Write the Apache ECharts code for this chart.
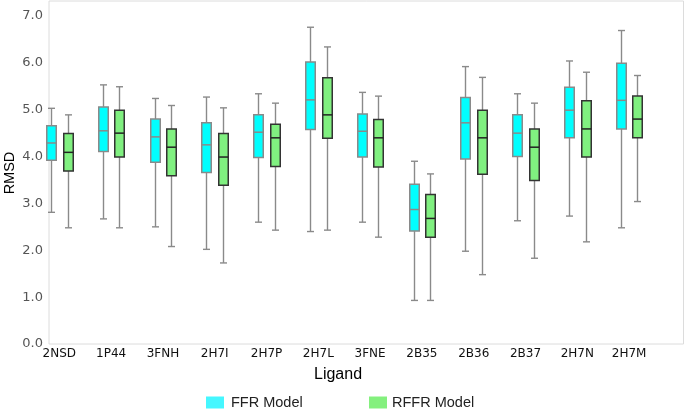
<!DOCTYPE html>
<html><head><meta charset="utf-8">
<script src="https://cdn.jsdelivr.net/npm/echarts@6/dist/echarts.min.js"></script>
<style>html,body{margin:0;padding:0;background:#fff}#c{width:685px;height:409px}</style>
</head><body><div id="c"></div>
<script>
var categories = ['2NSD','1P44','3FNH','2H7I','2H7P','2H7L','3FNE','2B35','2B36','2B37','2H7N','2H7M'];
var yTicks = [0,1,2,3,4,5,6,7];

var ffrMin    = [2.81,2.67,2.50,2.02,2.60,2.40,2.60,0.93,1.98,2.63,2.73,2.48];
var ffrQ1     = [3.92,4.11,3.88,3.66,3.98,4.58,3.99,2.41,3.95,4.00,4.40,4.59];
var ffrMedian = [4.29,4.55,4.42,4.25,4.52,5.21,4.54,2.87,4.72,4.50,4.99,5.20];
var ffrQ3     = [4.66,5.06,4.80,4.72,4.89,6.02,4.91,3.41,5.26,4.89,5.48,5.99];
var ffrMax    = [5.03,5.53,5.24,5.27,5.34,6.76,5.37,3.90,5.92,5.34,6.04,6.69];

var rffrMin    = [2.48,2.48,2.08,1.73,2.43,2.43,2.28,0.93,1.48,1.83,2.18,3.04];
var rffrQ1     = [3.69,3.99,3.59,3.39,3.79,4.39,3.78,2.28,3.62,3.49,3.99,4.40];
var rffrMedian = [4.09,4.50,4.20,3.99,4.40,4.89,4.40,2.68,4.40,4.20,4.59,4.80];
var rffrQ3     = [4.49,4.99,4.59,4.49,4.69,5.68,4.79,3.19,4.99,4.59,5.19,5.29];
var rffrMax    = [4.89,5.49,5.09,5.04,5.14,6.34,5.29,3.63,5.69,5.14,5.80,5.73];

function rows(mn, q1, md, q3, mx) {
  return categories.map(function (c, i) { return [i, mn[i], q1[i], md[i], q3[i], mx[i]]; });
}

function makeRender(offset, fill, boxStroke, medStroke) {
  return function (params, api) {
    var i = api.value(0);
    var pMin = api.coord([i, api.value(1)]);
    var pQ1 = api.coord([i, api.value(2)]);
    var pMed = api.coord([i, api.value(3)]);
    var pQ3 = api.coord([i, api.value(4)]);
    var pMax = api.coord([i, api.value(5)]);
    var x = Math.round(pMed[0] + offset) + 0.5;
    var hw = 4.75, cw = 3.5;
    var wStyle = { stroke: '#8a8a8a', lineWidth: 1.4 };
    return {
      type: 'group',
      children: [
        { type: 'line', shape: { x1: x, y1: pMax[1], x2: x, y2: pQ3[1] }, style: wStyle },
        { type: 'line', shape: { x1: x, y1: pQ1[1], x2: x, y2: pMin[1] }, style: wStyle },
        { type: 'line', shape: { x1: x - cw, y1: pMax[1], x2: x + cw, y2: pMax[1] }, style: wStyle },
        { type: 'line', shape: { x1: x - cw, y1: pMin[1], x2: x + cw, y2: pMin[1] }, style: wStyle },
        { type: 'rect', shape: { x: x - hw, y: pQ3[1], width: hw * 2, height: pQ1[1] - pQ3[1] },
          style: { fill: fill, stroke: boxStroke, lineWidth: 1.5 } },
        { type: 'line', shape: { x1: x - hw, y1: pMed[1], x2: x + hw, y2: pMed[1] },
          style: { stroke: medStroke, lineWidth: 1.5 } }
      ]
    };
  };
}

var chart = echarts.init(document.getElementById('c'), null, { renderer: 'canvas' });
chart.setOption({
  animation: false,
  backgroundColor: '#fff',
  grid: { left: 49, right: 1.5, top: 1, bottom: 65, containLabel: false, outerBoundsMode: 'none',
          show: true, borderColor: '#dcdcdc', borderWidth: 1 },
  xAxis: {
    type: 'value', min: -0.2, max: 12.05,
    axisLine: { show: false }, axisTick: { show: false }, splitLine: { show: false },
    axisLabel: {
      customValues: categories.map(function (c, i) { return i; }),
      formatter: function (v) { return categories[Math.round(v)] || ''; },
      color: '#111', fontSize: 12, fontFamily: 'DejaVu Sans', margin: 4
    }
  },
  yAxis: {
    type: 'value', min: 0, max: 7.32,
    axisLine: { show: false }, axisTick: { show: false }, splitLine: { show: false },
    axisLabel: {
      customValues: yTicks,
      formatter: function (v) { return v.toFixed(1); },
      color: '#555', fontSize: 13, fontFamily: 'DejaVu Sans', margin: 6
    }
  },
  legend: [
    { data: [{ name: 'FFR Model', itemStyle: { color: '#45f7ff' } }], left: 201, top: 390,
      icon: 'rect', itemWidth: 18, itemHeight: 12, itemGap: 6,
      textStyle: { fontSize: 14.5, color: '#222', fontFamily: 'Liberation Sans', padding: [0, 0, 0, 2] } },
    { data: [{ name: 'RFFR Model', itemStyle: { color: '#84f07e' } }], left: 364, top: 390,
      icon: 'rect', itemWidth: 18, itemHeight: 12, itemGap: 6,
      textStyle: { fontSize: 14.5, color: '#222', fontFamily: 'Liberation Sans' } }
  ],
  graphic: [
    { type: 'text', x: 338, y: 375,
      style: { text: 'Ligand', textAlign: 'center', textVerticalAlign: 'middle',
               font: '16px "Liberation Sans"', fill: '#000' } },
    { type: 'text', x: 9.5, y: 173, rotation: Math.PI / 2,
      style: { text: 'RMSD', textAlign: 'center', textVerticalAlign: 'middle',
               font: '14.5px "Liberation Sans"', fill: '#000' } }
  ],
  series: [
    { name: 'FFR Model', type: 'custom', itemStyle: { color: '#45f7ff' },
      renderItem: makeRender(-8.3, '#00ffff', '#8a8a8a', '#8a8a8a'),
      encode: { x: 0, y: [1, 2, 3, 4, 5] },
      data: rows(ffrMin, ffrQ1, ffrMedian, ffrQ3, ffrMax) },
    { name: 'RFFR Model', type: 'custom', itemStyle: { color: '#84f07e' },
      renderItem: makeRender(8.3, '#80f080', '#333', '#222'),
      encode: { x: 0, y: [1, 2, 3, 4, 5] },
      data: rows(rffrMin, rffrQ1, rffrMedian, rffrQ3, rffrMax) }
  ]
});
</script></body></html>
